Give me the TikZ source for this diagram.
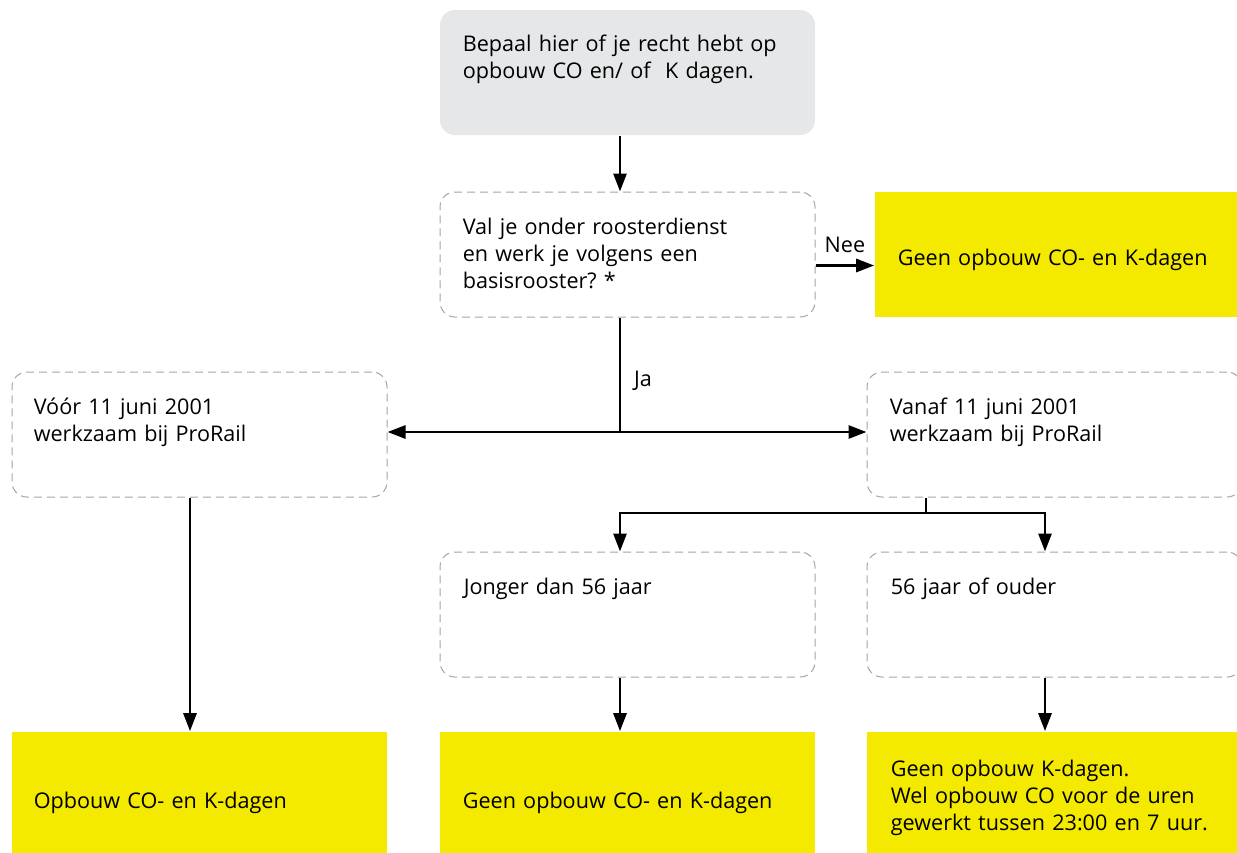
\documentclass[tikz,border=0pt]{standalone}
\usepackage{fontspec}
\setmainfont{Open Sans}
\usetikzlibrary{arrows.meta,positioning}
\definecolor{railyellow}{RGB}{243,234,0}
\definecolor{startgrey}{RGB}{230,231,232}
\definecolor{dashgrey}{RGB}{165,165,165}
\frenchspacing

\begin{document}
\begin{tikzpicture}[x=0.5pt, y=-0.5pt, thick]

		\tikzstyle{start}=[rectangle, rounded corners=7.5pt, fill=startgrey, minimum width=187.5pt, minimum height=62.5pt, inner sep=0pt]
		\tikzstyle{question}=[rectangle, rounded corners=7.5pt, draw=dashgrey, line width=0.5pt, dash pattern=on 4pt off 2.5pt, minimum width=187.5pt, minimum height=62.5pt, inner sep=0pt]
		\tikzstyle{result}=[rectangle, fill=railyellow, minimum width=187.5pt, minimum height=62.5pt, inner sep=0pt]
		\tikzstyle{txt}=[anchor=base west, inner sep=0pt, text width=178pt, align=left, font=\fontsize{10.8}{13.5}\selectfont]
		\tikzstyle{arrow}=[-{Triangle[length=9pt,width=6.5pt]}, line width=1.4pt]

		\useasboundingbox (0,0) rectangle (1237,852);
		\clip (0,0) rectangle (1237,852);

		% Boxes
		\node[start] (start) at (627.5,72.5) {};
		\node[question] (q1) at (627.5,254.5) {};
		\node[result] (nee) at (1062.5,254.5) {};
		\node[question] (voor) at (199.5,434.5) {};
		\node[question] (vanaf) at (1054.5,434.5) {};
		\node[question] (jonger) at (627.5,614.5) {};
		\node[question] (ouder) at (1054.5,614.5) {};
		\node[result] (res1) at (199.5,794.5) {};
		\node[result] (res2) at (627.5,794.5) {};
		\node[result] (res3) at (1054.5,794.5) {};

		% Texts
		\node[txt] (start-t) at (462,51) {Bepaal hier of je recht hebt op\\opbouw CO en/ of~ K dagen.};
		\node[txt] (q1-t) at (462,234) {Val je onder roosterdienst\\en werk je volgens een\\basisrooster? *};
		\node[txt] (nee-t) at (897,265) {Geen opbouw CO- en K-dagen};
		\node[txt] (voor-t) at (33,414) {Vóór 11 juni 2001\\werkzaam bij ProRail};
		\node[txt] (vanaf-t) at (889,414) {Vanaf 11 juni 2001\\werkzaam bij ProRail};
		\node[txt] (jonger-t) at (463,594) {Jonger dan 56 jaar};
		\node[txt] (ouder-t) at (890,594) {56 jaar of ouder};
		\node[txt] (res1-t) at (33,808) {Opbouw CO- en K-dagen};
		\node[txt] (res2-t) at (462,808) {Geen opbouw CO- en K-dagen};
		\node[txt] (res3-t) at (890,776) {Geen opbouw K-dagen.\\Wel opbouw CO voor de uren\\gewerkt tussen 23:00 en 7 uur.};

		\coordinate (split) at (620,432);
		\coordinate (fork) at (926,513);

		% Connectors
		\draw[arrow] ([xshift=-3.75pt]start.south) -- ([xshift=-3.75pt]q1.north);
		\draw[arrow] ([yshift=-5.5pt]q1.east) -- node[above=2.5pt, inner sep=3.33pt, font=\fontsize{10.8}{13}\selectfont] (nee-l) {Nee} ([yshift=-5.5pt]nee.west);
		\draw[line width=1.4pt] (q1.south -| split) -- node[pos=0.55, right=3pt, font=\fontsize{10.8}{13}\selectfont] (ja-l) {Ja} (split);
		\draw[arrow] (split) -- (voor.east |- split);
		\draw[arrow] (split) -- (vanaf.west |- split);
		\draw[line width=1.4pt] (vanaf.south -| fork) -- (fork);
		\draw[arrow] (fork) -| ([xshift=-3.75pt]jonger.north);
		\draw[arrow] (fork) -| ([xshift=-4.75pt]ouder.north);
		\draw[arrow] ([xshift=-4.75pt]voor.south) -- ([xshift=-4.75pt]res1.north);
		\draw[arrow] ([xshift=-3.75pt]jonger.south) -- ([xshift=-3.75pt]res2.north);
		\draw[arrow] ([xshift=-4.75pt]ouder.south) -- ([xshift=-4.75pt]res3.north);
\end{tikzpicture}
\end{document}
